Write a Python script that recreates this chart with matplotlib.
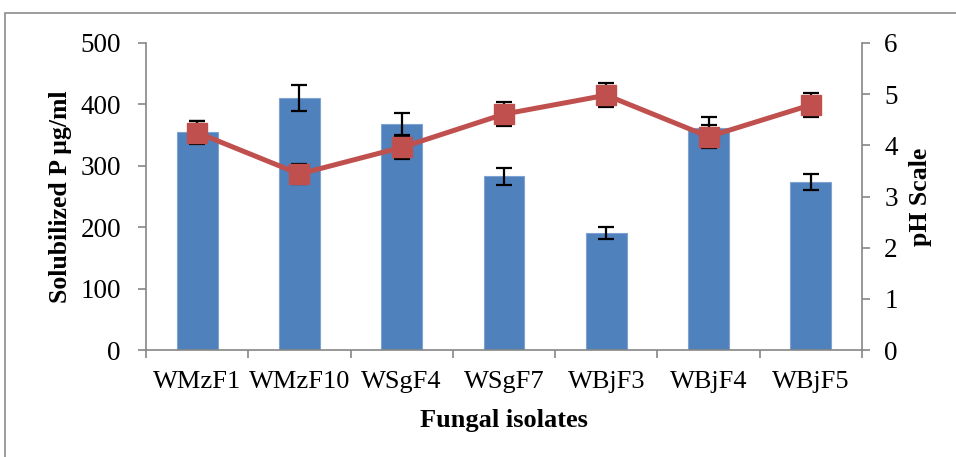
import matplotlib
matplotlib.use("Agg")
import matplotlib.pyplot as plt
from matplotlib.patches import Rectangle

isolates = ["WMzF1", "WMzF10", "WSgF4", "WSgF7", "WBjF3", "WBjF4", "WBjF5"]
solubilized_p = [355, 411, 368, 283, 191, 361, 273]
solubilized_p_err = [18, 21, 18, 14, 10, 18, 13]
ph_values = [4.25, 3.44, 3.96, 4.61, 4.98, 4.17, 4.79]
ph_err = [0.22, 0.20, 0.22, 0.23, 0.24, 0.23, 0.23]

plt.rcParams["font.family"] = ["Liberation Serif", "DejaVu Serif"]

W, H = 956, 457
fig = plt.figure(figsize=(W / 100, H / 100), dpi=100)

# outer chart-area frame
fig.patches.append(Rectangle((5 / W, -0.1), 1.1, 1 - 13 / H + 0.1,
                             transform=fig.transFigure, fill=False,
                             edgecolor="#8c8c8c", linewidth=1.2))

left, right, top, bottom = 146, 862, 43, 350
ax = fig.add_axes([left / W, 1 - bottom / H, (right - left) / W, (bottom - top) / H])
ax2 = ax.twinx()

x = list(range(len(isolates)))
ax.bar(x, solubilized_p, width=0.4, color="#4F81BD", edgecolor="#7FA3D1",
       linewidth=0.8, zorder=2)
ax.errorbar(x, solubilized_p, yerr=solubilized_p_err, fmt="none", ecolor="black",
            elinewidth=1.6, capsize=6, capthick=1.6, zorder=3)

ax2.errorbar(x, ph_values, yerr=ph_err, fmt="none", ecolor="black",
             elinewidth=1.6, capsize=6, capthick=1.6, zorder=3)
ax2.plot(x, ph_values, color="#C0504D", linewidth=3.6, marker="s",
         markersize=14.5, markerfacecolor="#C0504D", markeredgecolor="#C0504D",
         zorder=4)

ax.set_xlim(-0.5, len(isolates) - 0.5)
ax.set_ylim(0, 500)
ax2.set_ylim(0, 6)
ax.set_yticks(range(0, 501, 100))
ax2.set_yticks(range(0, 7))

ax.set_xticks(x)
ax.set_xticklabels(isolates)
ax.set_xticks([i - 0.5 for i in range(len(isolates) + 1)], minor=True)
ax.tick_params(axis="x", which="major", length=0, pad=15, labelsize=19)
ax.tick_params(axis="x", which="minor", length=6, width=1.2, color="#868686")
ax.tick_params(axis="y", length=6, width=1.2, color="#868686", labelsize=19.5, pad=12)
ax2.tick_params(axis="y", length=6, width=1.2, color="#868686", labelsize=19.5, pad=10)

for a in (ax, ax2):
    for s in a.spines.values():
        s.set_visible(False)
ax.spines["left"].set_visible(True)
ax.spines["bottom"].set_visible(True)
ax.spines["left"].set_color("#868686")
ax.spines["bottom"].set_color("#868686")
ax.spines["left"].set_linewidth(1.2)
ax.spines["bottom"].set_linewidth(1.2)
ax2.spines["right"].set_visible(True)
ax2.spines["right"].set_color("#868686")
ax2.spines["right"].set_linewidth(1.2)

ax.set_xlabel("Fungal isolates", fontsize=19, fontweight="bold", labelpad=12)
ax.set_ylabel("Solubilized P µg/ml", fontsize=18.5, fontweight="bold", labelpad=6)
ax2.set_ylabel("pH Scale", fontsize=18.5, fontweight="bold", labelpad=8)

ax.set_zorder(1)
ax2.set_zorder(2)
ax.patch.set_visible(False)

fig.savefig("out.png", dpi=100)
